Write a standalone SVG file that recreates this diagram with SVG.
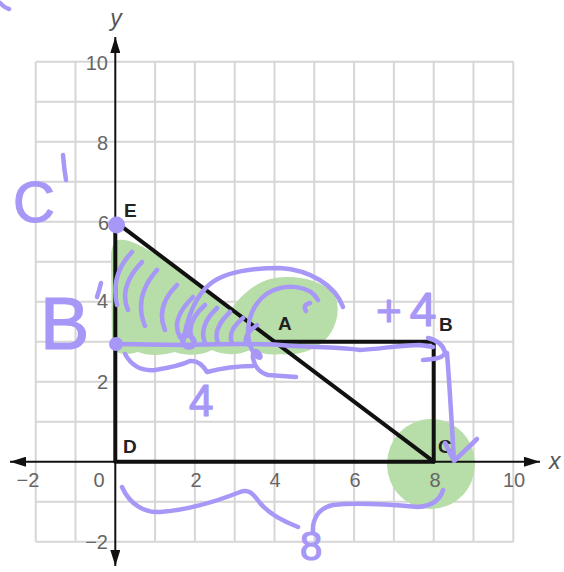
<svg xmlns="http://www.w3.org/2000/svg" width="564" height="572" viewBox="0 0 564 572">
<style>
.grid{fill:none;stroke:#d6d6d6;stroke-width:2}
.axis{fill:none;stroke:#111;stroke-width:2}
.seg{fill:none;stroke:#111;stroke-width:4;stroke-linecap:round;stroke-linejoin:round}
.tick{font-family:"Liberation Sans",Arial,sans-serif;font-size:20px;fill:#666}
.axl{font-family:"Liberation Sans",Arial,sans-serif;font-size:23px;fill:#555;font-style:italic}
.pt{font-family:"Liberation Sans",Arial,sans-serif;font-size:19px;font-weight:bold;fill:#222}
.hl{fill:#b7dda8}
.pen{fill:none;stroke:#a797f7;stroke-width:4.5;stroke-linecap:round;stroke-linejoin:round}
.ink{font-family:"Liberation Sans",Arial,sans-serif;fill:#a797f7;stroke:#a797f7;stroke-width:1.2;stroke-linejoin:round}
</style>
<defs>
<marker id="arr" viewBox="0 0 16 10" refX="16" refY="5" markerWidth="16" markerHeight="10" orient="auto-start-reverse" markerUnits="userSpaceOnUse"><path d="M0,0 L16,5 L0,10 z" fill="#111"/></marker>
</defs>
<rect width="564" height="572" fill="#fff"/>
<g id="grid">
<path class="grid" d="M35.7,61.7V541.7M75.5,61.7V541.7M155.1,61.7V541.7M194.9,61.7V541.7M234.7,61.7V541.7M274.5,61.7V541.7M314.3,61.7V541.7M354.1,61.7V541.7M393.9,61.7V541.7M433.7,61.7V541.7M473.5,61.7V541.7M513.3,61.7V541.7
M35.7,61.7H513.3M35.7,101.7H513.3M35.7,141.7H513.3M35.7,181.7H513.3M35.7,221.7H513.3M35.7,261.7H513.3M35.7,301.7H513.3M35.7,341.7H513.3M35.7,381.7H513.3M35.7,421.7H513.3M35.7,501.7H513.3M35.7,541.7H513.3"/>
</g>
<g id="highlights">
<path class="hl" d="M118,240 C130,238 145,248 165,260 L232,308 C238,300 250,285 270,279 C290,274 320,278 333,293 C342,305 338,330 322,343 C310,352 295,356 280,354 C268,356 258,352 250,350 C238,356 222,355 212,350 C200,356 185,356 175,352 C160,356 148,356 138,352 C125,356 114,354 112,345 L111,260 C111,248 113,242 118,240 Z"/>
<ellipse class="hl" cx="431" cy="464" rx="44" ry="45"/>
</g>
<g id="axes">
<line class="axis" x1="10" y1="461.7" x2="540" y2="461.7" marker-start="url(#arr)" marker-end="url(#arr)"/>
<line class="axis" x1="115.3" y1="566" x2="115.3" y2="37" marker-start="url(#arr)" marker-end="url(#arr)"/>
<text class="axl" x="116" y="26" text-anchor="middle">y</text>
<text class="axl" x="549" y="469">x</text>
</g>
<g id="ticks">
<text class="tick" x="108" y="70" text-anchor="end">10</text>
<text class="tick" x="108" y="150" text-anchor="end">8</text>
<text class="tick" x="109" y="230" text-anchor="end">6</text>
<text class="tick" x="108" y="308" text-anchor="end">4</text>
<text class="tick" x="108" y="389" text-anchor="end">2</text>
<text class="tick" x="108" y="549" text-anchor="end">−2</text>
<text class="tick" x="28" y="487" text-anchor="middle">−2</text>
<text class="tick" x="99" y="487" text-anchor="middle">0</text>
<text class="tick" x="196" y="487" text-anchor="middle">2</text>
<text class="tick" x="275" y="487" text-anchor="middle">4</text>
<text class="tick" x="355" y="487" text-anchor="middle">6</text>
<text class="tick" x="435" y="487" text-anchor="middle">8</text>
<text class="tick" x="514" y="487" text-anchor="middle">10</text>
</g>
<g id="connectors">
<path class="seg" d="M115.3,461.7 V221.7 L433.7,461.7 Z"/>
<path class="seg" d="M274.5,341.7 H433.7 V461.7"/>
</g>
<g id="node-E"><text class="pt" x="124" y="217">E</text></g>
<g id="node-D"><text class="pt" x="123" y="453">D</text></g>
<g id="node-A"><text class="pt" x="278" y="330">A</text></g>
<g id="node-B"><text class="pt" x="439" y="331">B</text></g>
<g id="node-C"><text class="pt" x="438" y="453">C</text></g>
<g id="annotations">
<path class="pen" d="M0,3 Q5,8 9,9"/>
<circle cx="116.5" cy="225" r="8.5" fill="#a797f7"/>
<circle cx="116" cy="344" r="7" fill="#a797f7"/>
<text class="ink" x="13" y="222" font-size="58">C</text>
<path class="pen" d="M63,155 Q64,168 66,180"/>
<text class="ink" x="40" y="349" font-size="74">B</text>
<path class="pen" d="M101,283 Q99,291 97,297"/>
<path class="pen" d="M132,252 Q110,275 117,305 M142,262 Q118,287 128,310 M157,270 Q133,297 145,326 M177,285 Q155,307 165,330 M193,297 Q170,320 180,337 M205,305 Q184,324 193,341 M217,308 Q198,326 205,343 M230,312 Q212,329 218,343 M243,318 Q227,331 232,343 M257,325 Q242,336 247,344"/>
<path class="pen" d="M186,332 C178,340 184,350 192,347 C198,343 193,334 186,336"/>
<path class="pen" d="M183,345 C186,320 195,296 210,284 C225,272 250,268 280,268 C310,270 335,285 343,307"/>
<path class="pen" d="M318,300 C310,285 285,283 268,293 C250,305 243,330 252,350 C258,362 264,358 258,352 C250,346 250,370 268,375 L296,377"/>
<path class="pen" d="M310,303 Q302,305 306,311"/>
<path class="pen" d="M120,344 L180,345 C220,344 250,343 280,345 C320,348 340,347 360,350 C380,349 400,345 420,345 L433,347"/>
<path class="pen" d="M428,338 C436,340 443,345 445,352 C444,358 436,359 423,360"/>
<path class="pen" d="M447,353 C450,390 452,430 454,460 M445,443 L454,461 L477,439"/>
<text class="ink" x="376" y="326" font-size="44">+<tspan dx="8" font-size="48">4</tspan></text>
<path class="pen" d="M125,354 Q135,372 155,370 Q180,366 190,361 Q200,360 207,372 Q230,366 253,366"/>
<text class="ink" x="189" y="416" font-size="44">4</text>
<path class="pen" d="M122,487 C130,505 145,513 160,512 C185,510 215,502 240,492 C248,489 252,492 260,503 C270,515 285,522 298,527"/>
<path class="pen" d="M443,490 C440,500 432,506 418,507 C395,505 360,502 333,505 C318,508 312,520 313,532"/>
<text class="ink" x="300" y="560" font-size="40">8</text>
</g>
</svg>
